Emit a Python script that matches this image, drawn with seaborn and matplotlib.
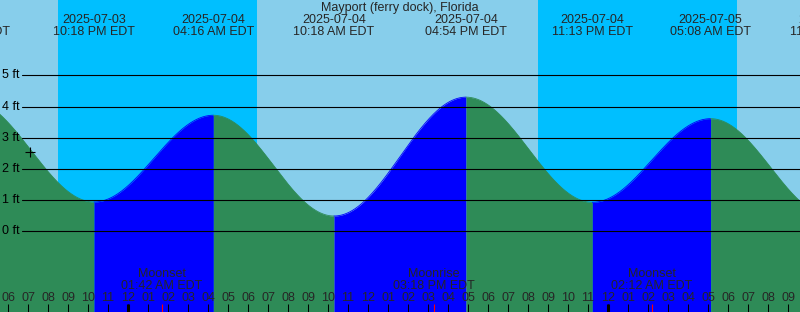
import numpy as np
import pandas as pd
import matplotlib
matplotlib.use("Agg")
import matplotlib.pyplot as plt
import seaborn as sns

# ---------------- data ----------------
title = "Mayport (ferry dock), Florida"
# hours relative to 2025-07-04 00:00 EDT
event_hours = [-7.97, -1.70, 4.267, 10.30, 16.90, 23.217, 29.133, 35.13]
event_heights = [4.23, 0.94, 3.72, 0.49, 4.30, 0.93, 3.61, 0.49]
event_dates = ["2025-07-03", "2025-07-03", "2025-07-04", "2025-07-04",
               "2025-07-04", "2025-07-04", "2025-07-05", "2025-07-05"]
event_times = ["04:02 PM EDT", "10:18 PM EDT", "04:16 AM EDT", "10:18 AM EDT",
               "04:54 PM EDT", "11:13 PM EDT", "05:08 AM EDT", "11:08 AM EDT"]
night_starts = [-3.48, 20.52]
night_ends = [6.47, 30.47]
moon_hours = [1.70, 15.30, 26.20]
moon_names = ["Moonset", "Moonrise", "Moonset"]
moon_times = ["01:42 AM EDT", "03:18 PM EDT", "02:12 AM EDT"]
height_ticks = [0, 1, 2, 3, 4, 5]
height_labels = ["0 ft", "1 ft", "2 ft", "3 ft", "4 ft", "5 ft"]
hour_ticks = list(range(-6, 34))
hour_labels = ["06", "07", "08", "09", "10", "11",
               "12", "01", "02", "03", "04", "05", "06", "07", "08", "09", "10", "11",
               "12", "01", "02", "03", "04", "05", "06", "07", "08", "09", "10", "11",
               "12", "01", "02", "03", "04", "05", "06", "07", "08", "09"]
midnight_hours = [0, 24]
now_hour, now_height = -4.9, 2.54

# ---------------- styling ----------------
DAY = "#87CEEB"
NIGHT = "#00BFFF"
FLOOD = "#0000FF"
EBB = "#2E8B57"
W, H, DPI = 800, 312, 100
X_MIN, X_MAX = -128 / 20, (W - 128) / 20
Y_MIN, Y_MAX = -(H - 231.3) / 31.2, 231.3 / 31.2

sns.set_style("white")
plt.rcParams["font.family"] = ["Liberation Sans", "DejaVu Sans"]
FS = 9

fig = plt.figure(figsize=(W / DPI, H / DPI), dpi=DPI, facecolor=DAY)
ax = fig.add_axes([0, 0, 1, 1])
ax.set_xlim(X_MIN, X_MAX)
ax.set_ylim(Y_MIN, Y_MAX)
ax.axis("off")

for s, e in zip(night_starts, night_ends):
    ax.axvspan(s, e, color=NIGHT, lw=0, zorder=0)

# tide curve: half-cosine between successive extrema
rows = []
for i in range(len(event_hours) - 1):
    t0, t1 = event_hours[i], event_hours[i + 1]
    h0, h1 = event_heights[i], event_heights[i + 1]
    ts = np.linspace(t0, t1, 200)
    hs = (h0 + h1) / 2 + (h0 - h1) / 2 * np.cos(np.pi * (ts - t0) / (t1 - t0))
    for t, h in zip(ts, hs):
        rows.append((t, h, i, "flood" if h1 > h0 else "ebb"))
df = pd.DataFrame(rows, columns=["hour", "height", "seg", "phase"])

seg_colors = {}
for seg, g in df.groupby("seg"):
    c = FLOOD if g["phase"].iloc[0] == "flood" else EBB
    seg_colors[seg] = c
    ax.fill_between(g["hour"], Y_MIN, g["height"], color=c, lw=0, zorder=1)
sns.lineplot(data=df, x="hour", y="height", hue="seg", palette=seg_colors,
             legend=False, linewidth=0.6, ax=ax, zorder=1.5)
ax.set_xlim(X_MIN, X_MAX)
ax.set_ylim(Y_MIN, Y_MAX)
ax.axis("off")

# height grid lines and labels
for v, lab in zip(height_ticks, height_labels):
    ax.axhline(v, xmin=22 / W, xmax=1, color="black", lw=0.8, zorder=2)
    ax.text(2.5 / W, v, lab, transform=ax.get_yaxis_transform(),
            ha="left", va="center", fontsize=FS, color="black", zorder=3)

xt = ax.get_xaxis_transform()
def yfrac(px):
    return 1 - px / H

# title
ax.text(0.5, yfrac(7.7), title, transform=ax.transAxes, ha="center", va="center",
        fontsize=FS, zorder=3)

# tide event labels
for t, d, tm in zip(event_hours, event_dates, event_times):
    ax.text(t, yfrac(20), d, transform=xt, ha="center", va="center", fontsize=FS,
            zorder=3, clip_on=False)
    ax.text(t, yfrac(31.7), tm, transform=xt, ha="center", va="center", fontsize=FS,
            zorder=3, clip_on=False)

# moon events
for t, n, tm in zip(moon_hours, moon_names, moon_times):
    ax.text(t, yfrac(274), n, transform=xt, ha="center", va="center", fontsize=FS, zorder=3)
    ax.text(t, yfrac(285.7), tm, transform=xt, ha="center", va="center", fontsize=FS, zorder=3)
    ax.vlines(t, 0, 8 / H, transform=xt, color="red", lw=0.8, zorder=3)

# hour ticks and labels
ax.vlines(hour_ticks, 0, 8 / H, transform=xt, color="black", lw=0.75, zorder=3)
ax.vlines(midnight_hours, 0, 8 / H, transform=xt, color="black", lw=2.2, zorder=3)
for t, lab in zip(hour_ticks, hour_labels):
    ax.text(t, yfrac(297.7), lab, transform=xt, ha="center", va="center",
            fontsize=FS, zorder=3)

# current-time marker
ax.plot([now_hour], [now_height], marker="+", color="black", markersize=7,
        markeredgewidth=0.8, zorder=4)

fig.savefig("out.png", dpi=DPI, facecolor=DAY)
